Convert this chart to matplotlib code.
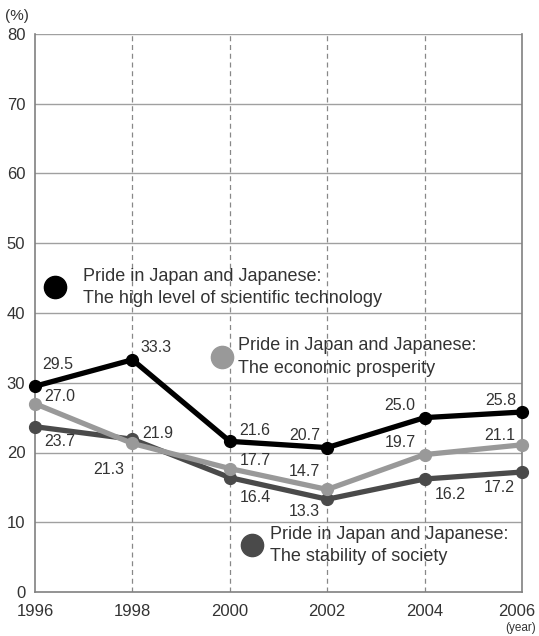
import matplotlib
matplotlib.use("Agg")
import matplotlib.pyplot as plt
import matplotlib.transforms as mtransforms

plt.rcParams['font.family'] = ['Liberation Sans', 'DejaVu Sans']

years = [1996, 1998, 2000, 2002, 2004, 2006]
tech = [29.5, 33.3, 21.6, 20.7, 25.0, 25.8]
econ = [27.0, 21.3, 17.7, 14.7, 19.7, 21.1]
stab = [23.7, 21.9, 16.4, 13.3, 16.2, 17.2]
yticks = [0, 10, 20, 30, 40, 50, 60, 70, 80]

legend_tech = "Pride in Japan and Japanese:\nThe high level of scientific technology"
legend_econ = "Pride in Japan and Japanese:\nThe economic prosperity"
legend_stab = "Pride in Japan and Japanese:\nThe stability of society"

c_tech = '#000000'
c_econ = '#999999'
c_stab = '#4a4a4a'
txt = '#333333'
grid = '#a0a0a0'

fig = plt.figure(figsize=(5.39, 6.36), dpi=100)
ax = fig.add_axes([35/539, 1-592/636, (522-35)/539, (592-34)/636])

ax.set_xlim(1996, 2006)
ax.set_ylim(0, 80)
for y in yticks[1:]:
    ax.axhline(y, color=grid, lw=1, zorder=1)
for x in years[1:-1]:
    ax.axvline(x, color='#888888', lw=0.9, ls=(0, (4, 3)), zorder=1)
for s in ['left', 'bottom', 'right']:
    ax.spines[s].set_color('#808080')
    ax.spines[s].set_linewidth(1.2)
ax.spines['top'].set_visible(False)

ax.set_yticks(yticks)
ax.set_yticklabels([str(v) for v in yticks])
ax.set_xticks(years)
ax.set_xticklabels([str(v) for v in years])
ax.tick_params(length=0, labelsize=12, labelcolor=txt)
ax.tick_params(axis='y', pad=7)
ax.tick_params(axis='x', pad=9)

last = ax.get_xticklabels()[-1]
last.set_transform(last.get_transform() + mtransforms.ScaledTranslation(-5/100, 0, fig.dpi_scale_trans))

# draw order: dark gray, light gray, black
ax.plot(years, stab, color=c_stab, lw=3.8, marker='o', ms=8.5, zorder=3, clip_on=False)
ax.plot(years, econ, color=c_econ, lw=3.8, marker='o', ms=8.5, zorder=4, clip_on=False)
ax.plot(years, tech, color=c_tech, lw=3.8, marker='o', ms=8.5, zorder=5, clip_on=False)

def lab(xs, ys, offs):
    for x, y, (dx, dy, ha) in zip(xs, ys, offs):
        ax.annotate(f"{y:.1f}", (x, y), xytext=(dx, dy), textcoords='offset points',
                    ha=ha, va='center', fontsize=11.5, color=txt, zorder=6)

lab(years, tech, [(5, 16, 'left'), (6, 9, 'left'), (7, 8, 'left'), (-5, 9, 'right'), (-7, 9, 'right'), (-4, 8, 'right')])
lab(years, econ, [(7, 5, 'left'), (-6, -19, 'right'), (7, 6, 'left'), (-5, 13, 'right'), (-6, 9, 'right'), (-5, 7, 'right')])
lab(years, stab, [(7, -11, 'left'), (7, 4, 'left'), (7, -14, 'left'), (-5, -9, 'right'), (7, -11, 'left'), (-5, -11, 'right')])

# legend-style labels
for (cx, cy, tx, c, s) in [(1996.41, 43.7, 1996.99, c_tech, legend_tech),
                           (1999.84, 33.7, 2000.17, c_econ, legend_econ),
                           (2000.46, 6.7, 2000.83, c_stab, legend_stab)]:
    ax.plot([cx], [cy], 'o', color=c, ms=16, zorder=6)
    ax.text(tx, cy, s, fontsize=13, color=txt, va='center', ha='left',
            linespacing=1.4, zorder=6)

fig.text(5/539, 1-16/636, "(%)", fontsize=11, color=txt, ha='left', va='center')
fig.text(536/539, 1-628/636, "(year)", fontsize=8.5, color=txt, ha='right', va='center')

fig.savefig("out.png", dpi=100)
